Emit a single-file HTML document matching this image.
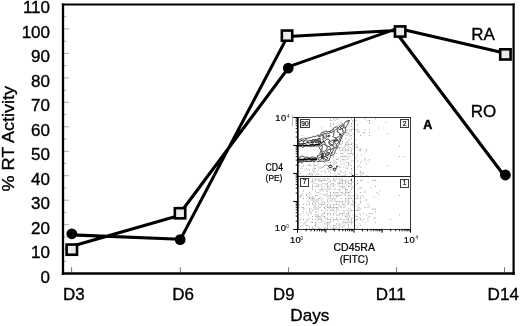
<!DOCTYPE html>
<html><head><meta charset="utf-8">
<style>
html,body{margin:0;padding:0;background:#fff;}
body{width:520px;height:326px;overflow:hidden;}
svg{display:block;}
text{font-family:"Liberation Sans",Arial,sans-serif;fill:#000;}
.m text,text.m{stroke:#000;stroke-width:0.35;}
.s text,text.s{stroke:#000;stroke-width:0.22;}
</style></head>
<body>
<svg width="520" height="326" viewBox="0 0 520 326">
<path stroke="#999" stroke-width="0.8" fill="none" d="M64 261.4H66.5M64 249.1H69M64 236.9H66.5M64 224.7H69M64 212.4H66.5M64 200.2H69M64 188.0H66.5M64 175.7H69M64 163.5H66.5M64 151.3H69M64 139.0H66.5M64 126.8H69M64 114.6H66.5M64 102.3H69M64 90.1H66.5M64 77.9H69M64 65.6H66.5M64 53.4H69M64 41.2H66.5M64 28.9H69M64 16.7H66.5"/>
<path stroke="#666" stroke-width="0.9" fill="none" d="M71.6 272.4V267.2M180.4 272.4V267.2M288.6 272.4V267.2M396.5 272.4V267.2M504.5 272.4V267.2"/>
<path fill="none" stroke="#000" d="M63 3.4V274.85" stroke-width="2.3"/><path fill="none" stroke="#000" d="M61.85 4.45H514.7" stroke-width="2.1"/><path fill="none" stroke="#000" d="M513.6 3.4V274.85" stroke-width="2.2"/><path fill="none" stroke="#000" d="M61.85 273.6H514.7" stroke-width="2.5"/>
<g class="m" font-size="17" text-anchor="end">
<text x="50" y="13.4">110</text>
<text x="50" y="37.8">100</text>
<text x="50" y="62.3">90</text>
<text x="50" y="86.8">80</text>
<text x="50" y="111.2">70</text>
<text x="50" y="135.7">60</text>
<text x="50" y="160.2">50</text>
<text x="50" y="184.6">40</text>
<text x="50" y="209.1">30</text>
<text x="50" y="233.6">20</text>
<text x="50" y="258.0">10</text>
<text x="50" y="282.5">0</text>
</g>
<text class="m" font-size="17" transform="translate(14.1,191.5) rotate(-90)" textLength="105.5" lengthAdjust="spacingAndGlyphs">% RT Activity</text>
<g class="m" font-size="17">
<text x="63" y="299.6">D3</text>
<text x="172.2" y="299.6">D6</text>
<text x="273.1" y="299.6" textLength="21.4" lengthAdjust="spacingAndGlyphs">D9</text>
<text x="375.7" y="299.6">D11</text>
<text x="487.6" y="299.6" textLength="31.3" lengthAdjust="spacingAndGlyphs">D14</text>
<text x="290.3" y="320.7" textLength="39" lengthAdjust="spacingAndGlyphs">Days</text>
<text x="471.2" y="39.8">RA</text>
<text x="470.7" y="117">RO</text>
</g>
<g id="inset">
<path fill="#aaaaaa" d="M330.0 118.5h1v1h-1zM333.0 118.5h1v1h-1zM334.5 118.5h1v1h-1zM336.0 118.5h1v1h-1zM337.5 118.5h1v1h-1zM351.0 118.5h1v1h-1zM364.5 118.5h1v1h-1zM375.0 118.5h1v1h-1zM330.0 120.0h1v1h-1zM331.5 120.0h1v1h-1zM334.5 120.0h1v1h-1zM346.5 120.0h1v1h-1zM348.0 120.0h1v1h-1zM352.5 120.0h1v1h-1zM355.5 120.0h1v1h-1zM367.5 120.0h1v1h-1zM369.0 120.0h1v1h-1zM340.5 121.5h1v1h-1zM352.5 121.5h1v1h-1zM369.0 121.5h1v1h-1zM385.5 121.5h1v1h-1zM330.0 123.0h1v1h-1zM333.0 123.0h1v1h-1zM340.5 123.0h1v1h-1zM342.0 123.0h1v1h-1zM351.0 123.0h1v1h-1zM369.0 123.0h1v1h-1zM330.0 124.5h1v1h-1zM333.0 124.5h1v1h-1zM337.5 124.5h1v1h-1zM339.0 124.5h1v1h-1zM351.0 124.5h1v1h-1zM352.5 124.5h1v1h-1zM357.0 124.5h1v1h-1zM330.0 126.0h1v1h-1zM339.0 126.0h1v1h-1zM351.0 126.0h1v1h-1zM321.0 127.5h1v1h-1zM331.5 127.5h1v1h-1zM333.0 127.5h1v1h-1zM345.0 127.5h1v1h-1zM352.5 127.5h1v1h-1zM378.0 127.5h1v1h-1zM333.0 129.0h1v1h-1zM346.5 129.0h1v1h-1zM349.5 129.0h1v1h-1zM351.0 129.0h1v1h-1zM352.5 129.0h1v1h-1zM355.5 129.0h1v1h-1zM357.0 129.0h1v1h-1zM364.5 129.0h1v1h-1zM369.0 129.0h1v1h-1zM330.0 130.5h1v1h-1zM346.5 130.5h1v1h-1zM349.5 130.5h1v1h-1zM351.0 130.5h1v1h-1zM357.0 130.5h1v1h-1zM358.5 130.5h1v1h-1zM345.0 132.0h1v1h-1zM346.5 132.0h1v1h-1zM358.5 132.0h1v1h-1zM363.0 132.0h1v1h-1zM364.5 132.0h1v1h-1zM369.0 132.0h1v1h-1zM345.0 133.5h1v1h-1zM346.5 133.5h1v1h-1zM348.0 133.5h1v1h-1zM349.5 133.5h1v1h-1zM352.5 133.5h1v1h-1zM387.0 133.5h1v1h-1zM301.5 135.0h1v1h-1zM346.5 135.0h1v1h-1zM349.5 135.0h1v1h-1zM351.0 135.0h1v1h-1zM360.0 135.0h1v1h-1zM369.0 135.0h1v1h-1zM349.5 136.5h1v1h-1zM345.0 138.0h1v1h-1zM351.0 138.0h1v1h-1zM348.0 139.5h1v1h-1zM349.5 139.5h1v1h-1zM355.5 139.5h1v1h-1zM342.0 141.0h1v1h-1zM346.5 141.0h1v1h-1zM340.5 142.5h1v1h-1zM342.0 142.5h1v1h-1zM345.0 142.5h1v1h-1zM346.5 142.5h1v1h-1zM348.0 142.5h1v1h-1zM351.0 142.5h1v1h-1zM352.5 142.5h1v1h-1zM340.5 144.0h1v1h-1zM345.0 144.0h1v1h-1zM346.5 144.0h1v1h-1zM348.0 144.0h1v1h-1zM349.5 144.0h1v1h-1zM351.0 144.0h1v1h-1zM355.5 144.0h1v1h-1zM343.5 145.5h1v1h-1zM345.0 145.5h1v1h-1zM346.5 145.5h1v1h-1zM348.0 145.5h1v1h-1zM352.5 145.5h1v1h-1zM357.0 145.5h1v1h-1zM399.0 145.5h1v1h-1zM337.5 147.0h1v1h-1zM339.0 147.0h1v1h-1zM340.5 147.0h1v1h-1zM343.5 147.0h1v1h-1zM349.5 147.0h1v1h-1zM355.5 147.0h1v1h-1zM357.0 147.0h1v1h-1zM339.0 148.5h1v1h-1zM342.0 148.5h1v1h-1zM343.5 148.5h1v1h-1zM345.0 148.5h1v1h-1zM348.0 148.5h1v1h-1zM351.0 148.5h1v1h-1zM352.5 148.5h1v1h-1zM358.5 148.5h1v1h-1zM360.0 148.5h1v1h-1zM361.5 148.5h1v1h-1zM366.0 148.5h1v1h-1zM340.5 150.0h1v1h-1zM342.0 150.0h1v1h-1zM345.0 150.0h1v1h-1zM346.5 150.0h1v1h-1zM348.0 150.0h1v1h-1zM351.0 150.0h1v1h-1zM358.5 150.0h1v1h-1zM360.0 150.0h1v1h-1zM366.0 150.0h1v1h-1zM343.5 151.5h1v1h-1zM346.5 151.5h1v1h-1zM351.0 151.5h1v1h-1zM364.5 151.5h1v1h-1zM336.0 153.0h1v1h-1zM340.5 153.0h1v1h-1zM342.0 153.0h1v1h-1zM348.0 153.0h1v1h-1zM349.5 153.0h1v1h-1zM351.0 153.0h1v1h-1zM352.5 153.0h1v1h-1zM343.5 154.5h1v1h-1zM346.5 154.5h1v1h-1zM349.5 154.5h1v1h-1zM352.5 154.5h1v1h-1zM357.0 154.5h1v1h-1zM361.5 154.5h1v1h-1zM333.0 156.0h1v1h-1zM340.5 156.0h1v1h-1zM342.0 156.0h1v1h-1zM343.5 156.0h1v1h-1zM345.0 156.0h1v1h-1zM346.5 156.0h1v1h-1zM349.5 156.0h1v1h-1zM399.0 156.0h1v1h-1zM403.5 156.0h1v1h-1zM337.5 157.5h1v1h-1zM340.5 157.5h1v1h-1zM348.0 157.5h1v1h-1zM355.5 157.5h1v1h-1zM364.5 157.5h1v1h-1zM336.0 159.0h1v1h-1zM337.5 159.0h1v1h-1zM342.0 159.0h1v1h-1zM343.5 159.0h1v1h-1zM346.5 159.0h1v1h-1zM364.5 159.0h1v1h-1zM369.0 159.0h1v1h-1zM333.0 160.5h1v1h-1zM334.5 160.5h1v1h-1zM340.5 160.5h1v1h-1zM343.5 160.5h1v1h-1zM351.0 160.5h1v1h-1zM352.5 160.5h1v1h-1zM357.0 160.5h1v1h-1zM361.5 160.5h1v1h-1zM364.5 160.5h1v1h-1zM367.5 160.5h1v1h-1zM298.5 162.0h1v1h-1zM313.5 162.0h1v1h-1zM324.0 162.0h1v1h-1zM328.5 162.0h1v1h-1zM330.0 162.0h1v1h-1zM334.5 162.0h1v1h-1zM336.0 162.0h1v1h-1zM346.5 162.0h1v1h-1zM348.0 162.0h1v1h-1zM360.0 162.0h1v1h-1zM309.0 163.5h1v1h-1zM313.5 163.5h1v1h-1zM318.0 163.5h1v1h-1zM325.5 163.5h1v1h-1zM330.0 163.5h1v1h-1zM333.0 163.5h1v1h-1zM334.5 163.5h1v1h-1zM340.5 163.5h1v1h-1zM343.5 163.5h1v1h-1zM348.0 163.5h1v1h-1zM349.5 163.5h1v1h-1zM366.0 163.5h1v1h-1zM298.5 165.0h1v1h-1zM303.0 165.0h1v1h-1zM307.5 165.0h1v1h-1zM309.0 165.0h1v1h-1zM310.5 165.0h1v1h-1zM313.5 165.0h1v1h-1zM315.0 165.0h1v1h-1zM316.5 165.0h1v1h-1zM324.0 165.0h1v1h-1zM325.5 165.0h1v1h-1zM327.0 165.0h1v1h-1zM328.5 165.0h1v1h-1zM330.0 165.0h1v1h-1zM337.5 165.0h1v1h-1zM348.0 165.0h1v1h-1zM351.0 165.0h1v1h-1zM358.5 165.0h1v1h-1zM387.0 165.0h1v1h-1zM301.5 166.5h1v1h-1zM313.5 166.5h1v1h-1zM318.0 166.5h1v1h-1zM319.5 166.5h1v1h-1zM321.0 166.5h1v1h-1zM336.0 166.5h1v1h-1zM339.0 166.5h1v1h-1zM340.5 166.5h1v1h-1zM343.5 166.5h1v1h-1zM346.5 166.5h1v1h-1zM357.0 166.5h1v1h-1zM360.0 166.5h1v1h-1zM301.5 168.0h1v1h-1zM306.0 168.0h1v1h-1zM313.5 168.0h1v1h-1zM315.0 168.0h1v1h-1zM319.5 168.0h1v1h-1zM327.0 168.0h1v1h-1zM328.5 168.0h1v1h-1zM331.5 168.0h1v1h-1zM333.0 168.0h1v1h-1zM334.5 168.0h1v1h-1zM336.0 168.0h1v1h-1zM346.5 168.0h1v1h-1zM351.0 168.0h1v1h-1zM304.5 169.5h1v1h-1zM307.5 169.5h1v1h-1zM309.0 169.5h1v1h-1zM312.0 169.5h1v1h-1zM313.5 169.5h1v1h-1zM318.0 169.5h1v1h-1zM325.5 169.5h1v1h-1zM328.5 169.5h1v1h-1zM330.0 169.5h1v1h-1zM331.5 169.5h1v1h-1zM340.5 169.5h1v1h-1zM351.0 169.5h1v1h-1zM298.5 171.0h1v1h-1zM313.5 171.0h1v1h-1zM321.0 171.0h1v1h-1zM324.0 171.0h1v1h-1zM328.5 171.0h1v1h-1zM334.5 171.0h1v1h-1zM340.5 171.0h1v1h-1zM345.0 171.0h1v1h-1zM360.0 171.0h1v1h-1zM300.0 172.5h1v1h-1zM309.0 172.5h1v1h-1zM310.5 172.5h1v1h-1zM313.5 172.5h1v1h-1zM316.5 172.5h1v1h-1zM325.5 172.5h1v1h-1zM330.0 172.5h1v1h-1zM334.5 172.5h1v1h-1zM337.5 172.5h1v1h-1zM340.5 172.5h1v1h-1zM343.5 172.5h1v1h-1zM349.5 172.5h1v1h-1zM351.0 172.5h1v1h-1zM360.0 172.5h1v1h-1zM361.5 172.5h1v1h-1zM363.0 172.5h1v1h-1zM307.5 174.0h1v1h-1zM309.0 174.0h1v1h-1zM310.5 174.0h1v1h-1zM312.0 174.0h1v1h-1zM316.5 174.0h1v1h-1zM318.0 174.0h1v1h-1zM337.5 174.0h1v1h-1zM339.0 174.0h1v1h-1zM345.0 174.0h1v1h-1zM351.0 174.0h1v1h-1zM355.5 174.0h1v1h-1zM357.0 174.0h1v1h-1zM361.5 174.0h1v1h-1zM298.5 175.5h1v1h-1zM301.5 175.5h1v1h-1zM303.0 175.5h1v1h-1zM304.5 175.5h1v1h-1zM306.0 175.5h1v1h-1zM310.5 175.5h1v1h-1zM312.0 175.5h1v1h-1zM315.0 175.5h1v1h-1zM321.0 175.5h1v1h-1zM327.0 175.5h1v1h-1zM330.0 175.5h1v1h-1zM334.5 175.5h1v1h-1zM336.0 175.5h1v1h-1zM340.5 175.5h1v1h-1zM342.0 175.5h1v1h-1zM343.5 175.5h1v1h-1zM345.0 175.5h1v1h-1zM360.0 175.5h1v1h-1zM366.0 175.5h1v1h-1zM367.5 175.5h1v1h-1zM298.5 178.5h1v1h-1zM312.0 178.5h1v1h-1zM313.5 178.5h1v1h-1zM315.0 178.5h1v1h-1zM316.5 178.5h1v1h-1zM318.0 178.5h1v1h-1zM319.5 178.5h1v1h-1zM322.5 178.5h1v1h-1zM324.0 178.5h1v1h-1zM327.0 178.5h1v1h-1zM328.5 178.5h1v1h-1zM333.0 178.5h1v1h-1zM334.5 178.5h1v1h-1zM336.0 178.5h1v1h-1zM339.0 178.5h1v1h-1zM340.5 178.5h1v1h-1zM342.0 178.5h1v1h-1zM346.5 178.5h1v1h-1zM351.0 178.5h1v1h-1zM361.5 178.5h1v1h-1zM312.0 180.0h1v1h-1zM315.0 180.0h1v1h-1zM318.0 180.0h1v1h-1zM319.5 180.0h1v1h-1zM321.0 180.0h1v1h-1zM322.5 180.0h1v1h-1zM324.0 180.0h1v1h-1zM325.5 180.0h1v1h-1zM330.0 180.0h1v1h-1zM333.0 180.0h1v1h-1zM334.5 180.0h1v1h-1zM340.5 180.0h1v1h-1zM342.0 180.0h1v1h-1zM343.5 180.0h1v1h-1zM345.0 180.0h1v1h-1zM348.0 180.0h1v1h-1zM351.0 180.0h1v1h-1zM357.0 180.0h1v1h-1zM360.0 180.0h1v1h-1zM361.5 180.0h1v1h-1zM372.0 180.0h1v1h-1zM373.5 180.0h1v1h-1zM375.0 180.0h1v1h-1zM310.5 181.5h1v1h-1zM312.0 181.5h1v1h-1zM313.5 181.5h1v1h-1zM319.5 181.5h1v1h-1zM321.0 181.5h1v1h-1zM328.5 181.5h1v1h-1zM330.0 181.5h1v1h-1zM334.5 181.5h1v1h-1zM337.5 181.5h1v1h-1zM339.0 181.5h1v1h-1zM340.5 181.5h1v1h-1zM342.0 181.5h1v1h-1zM345.0 181.5h1v1h-1zM346.5 181.5h1v1h-1zM348.0 181.5h1v1h-1zM351.0 181.5h1v1h-1zM352.5 181.5h1v1h-1zM367.5 181.5h1v1h-1zM313.5 183.0h1v1h-1zM316.5 183.0h1v1h-1zM322.5 183.0h1v1h-1zM325.5 183.0h1v1h-1zM327.0 183.0h1v1h-1zM331.5 183.0h1v1h-1zM333.0 183.0h1v1h-1zM337.5 183.0h1v1h-1zM339.0 183.0h1v1h-1zM340.5 183.0h1v1h-1zM342.0 183.0h1v1h-1zM345.0 183.0h1v1h-1zM348.0 183.0h1v1h-1zM349.5 183.0h1v1h-1zM351.0 183.0h1v1h-1zM357.0 183.0h1v1h-1zM312.0 184.5h1v1h-1zM316.5 184.5h1v1h-1zM318.0 184.5h1v1h-1zM319.5 184.5h1v1h-1zM321.0 184.5h1v1h-1zM325.5 184.5h1v1h-1zM327.0 184.5h1v1h-1zM330.0 184.5h1v1h-1zM331.5 184.5h1v1h-1zM333.0 184.5h1v1h-1zM334.5 184.5h1v1h-1zM337.5 184.5h1v1h-1zM343.5 184.5h1v1h-1zM346.5 184.5h1v1h-1zM349.5 184.5h1v1h-1zM351.0 184.5h1v1h-1zM355.5 184.5h1v1h-1zM298.5 186.0h1v1h-1zM312.0 186.0h1v1h-1zM315.0 186.0h1v1h-1zM316.5 186.0h1v1h-1zM318.0 186.0h1v1h-1zM322.5 186.0h1v1h-1zM327.0 186.0h1v1h-1zM328.5 186.0h1v1h-1zM333.0 186.0h1v1h-1zM339.0 186.0h1v1h-1zM340.5 186.0h1v1h-1zM342.0 186.0h1v1h-1zM343.5 186.0h1v1h-1zM348.0 186.0h1v1h-1zM349.5 186.0h1v1h-1zM352.5 186.0h1v1h-1zM375.0 186.0h1v1h-1zM312.0 187.5h1v1h-1zM321.0 187.5h1v1h-1zM324.0 187.5h1v1h-1zM327.0 187.5h1v1h-1zM328.5 187.5h1v1h-1zM330.0 187.5h1v1h-1zM334.5 187.5h1v1h-1zM340.5 187.5h1v1h-1zM342.0 187.5h1v1h-1zM343.5 187.5h1v1h-1zM345.0 187.5h1v1h-1zM351.0 187.5h1v1h-1zM352.5 187.5h1v1h-1zM358.5 187.5h1v1h-1zM360.0 187.5h1v1h-1zM361.5 187.5h1v1h-1zM370.5 187.5h1v1h-1zM312.0 189.0h1v1h-1zM319.5 189.0h1v1h-1zM321.0 189.0h1v1h-1zM322.5 189.0h1v1h-1zM325.5 189.0h1v1h-1zM328.5 189.0h1v1h-1zM331.5 189.0h1v1h-1zM334.5 189.0h1v1h-1zM337.5 189.0h1v1h-1zM339.0 189.0h1v1h-1zM345.0 189.0h1v1h-1zM346.5 189.0h1v1h-1zM351.0 189.0h1v1h-1zM357.0 189.0h1v1h-1zM303.0 190.5h1v1h-1zM315.0 190.5h1v1h-1zM319.5 190.5h1v1h-1zM322.5 190.5h1v1h-1zM325.5 190.5h1v1h-1zM327.0 190.5h1v1h-1zM339.0 190.5h1v1h-1zM345.0 190.5h1v1h-1zM346.5 190.5h1v1h-1zM349.5 190.5h1v1h-1zM364.5 190.5h1v1h-1zM379.5 190.5h1v1h-1zM309.0 192.0h1v1h-1zM316.5 192.0h1v1h-1zM318.0 192.0h1v1h-1zM330.0 192.0h1v1h-1zM333.0 192.0h1v1h-1zM334.5 192.0h1v1h-1zM336.0 192.0h1v1h-1zM337.5 192.0h1v1h-1zM340.5 192.0h1v1h-1zM342.0 192.0h1v1h-1zM345.0 192.0h1v1h-1zM346.5 192.0h1v1h-1zM348.0 192.0h1v1h-1zM349.5 192.0h1v1h-1zM360.0 192.0h1v1h-1zM364.5 192.0h1v1h-1zM376.5 192.0h1v1h-1zM301.5 193.5h1v1h-1zM306.0 193.5h1v1h-1zM307.5 193.5h1v1h-1zM310.5 193.5h1v1h-1zM319.5 193.5h1v1h-1zM322.5 193.5h1v1h-1zM325.5 193.5h1v1h-1zM327.0 193.5h1v1h-1zM330.0 193.5h1v1h-1zM334.5 193.5h1v1h-1zM337.5 193.5h1v1h-1zM342.0 193.5h1v1h-1zM343.5 193.5h1v1h-1zM345.0 193.5h1v1h-1zM348.0 193.5h1v1h-1zM355.5 193.5h1v1h-1zM378.0 193.5h1v1h-1zM300.0 195.0h1v1h-1zM301.5 195.0h1v1h-1zM306.0 195.0h1v1h-1zM309.0 195.0h1v1h-1zM315.0 195.0h1v1h-1zM316.5 195.0h1v1h-1zM324.0 195.0h1v1h-1zM325.5 195.0h1v1h-1zM328.5 195.0h1v1h-1zM330.0 195.0h1v1h-1zM331.5 195.0h1v1h-1zM334.5 195.0h1v1h-1zM336.0 195.0h1v1h-1zM337.5 195.0h1v1h-1zM339.0 195.0h1v1h-1zM340.5 195.0h1v1h-1zM345.0 195.0h1v1h-1zM348.0 195.0h1v1h-1zM349.5 195.0h1v1h-1zM352.5 195.0h1v1h-1zM357.0 195.0h1v1h-1zM361.5 195.0h1v1h-1zM399.0 195.0h1v1h-1zM298.5 196.5h1v1h-1zM300.0 196.5h1v1h-1zM307.5 196.5h1v1h-1zM309.0 196.5h1v1h-1zM310.5 196.5h1v1h-1zM312.0 196.5h1v1h-1zM313.5 196.5h1v1h-1zM319.5 196.5h1v1h-1zM327.0 196.5h1v1h-1zM328.5 196.5h1v1h-1zM330.0 196.5h1v1h-1zM333.0 196.5h1v1h-1zM336.0 196.5h1v1h-1zM337.5 196.5h1v1h-1zM346.5 196.5h1v1h-1zM349.5 196.5h1v1h-1zM357.0 196.5h1v1h-1zM360.0 196.5h1v1h-1zM363.0 196.5h1v1h-1zM373.5 196.5h1v1h-1zM303.0 198.0h1v1h-1zM309.0 198.0h1v1h-1zM310.5 198.0h1v1h-1zM312.0 198.0h1v1h-1zM313.5 198.0h1v1h-1zM318.0 198.0h1v1h-1zM319.5 198.0h1v1h-1zM322.5 198.0h1v1h-1zM328.5 198.0h1v1h-1zM331.5 198.0h1v1h-1zM334.5 198.0h1v1h-1zM340.5 198.0h1v1h-1zM345.0 198.0h1v1h-1zM348.0 198.0h1v1h-1zM349.5 198.0h1v1h-1zM351.0 198.0h1v1h-1zM355.5 198.0h1v1h-1zM357.0 198.0h1v1h-1zM360.0 198.0h1v1h-1zM307.5 199.5h1v1h-1zM310.5 199.5h1v1h-1zM312.0 199.5h1v1h-1zM313.5 199.5h1v1h-1zM315.0 199.5h1v1h-1zM316.5 199.5h1v1h-1zM318.0 199.5h1v1h-1zM321.0 199.5h1v1h-1zM327.0 199.5h1v1h-1zM330.0 199.5h1v1h-1zM331.5 199.5h1v1h-1zM334.5 199.5h1v1h-1zM345.0 199.5h1v1h-1zM346.5 199.5h1v1h-1zM348.0 199.5h1v1h-1zM352.5 199.5h1v1h-1zM364.5 199.5h1v1h-1zM366.0 199.5h1v1h-1zM298.5 201.0h1v1h-1zM307.5 201.0h1v1h-1zM313.5 201.0h1v1h-1zM316.5 201.0h1v1h-1zM322.5 201.0h1v1h-1zM327.0 201.0h1v1h-1zM331.5 201.0h1v1h-1zM334.5 201.0h1v1h-1zM336.0 201.0h1v1h-1zM337.5 201.0h1v1h-1zM339.0 201.0h1v1h-1zM340.5 201.0h1v1h-1zM342.0 201.0h1v1h-1zM345.0 201.0h1v1h-1zM348.0 201.0h1v1h-1zM352.5 201.0h1v1h-1zM360.0 201.0h1v1h-1zM309.0 202.5h1v1h-1zM312.0 202.5h1v1h-1zM313.5 202.5h1v1h-1zM315.0 202.5h1v1h-1zM318.0 202.5h1v1h-1zM321.0 202.5h1v1h-1zM322.5 202.5h1v1h-1zM324.0 202.5h1v1h-1zM328.5 202.5h1v1h-1zM336.0 202.5h1v1h-1zM339.0 202.5h1v1h-1zM342.0 202.5h1v1h-1zM343.5 202.5h1v1h-1zM346.5 202.5h1v1h-1zM348.0 202.5h1v1h-1zM349.5 202.5h1v1h-1zM352.5 202.5h1v1h-1zM355.5 202.5h1v1h-1zM360.0 202.5h1v1h-1zM298.5 204.0h1v1h-1zM303.0 204.0h1v1h-1zM306.0 204.0h1v1h-1zM309.0 204.0h1v1h-1zM312.0 204.0h1v1h-1zM315.0 204.0h1v1h-1zM319.5 204.0h1v1h-1zM321.0 204.0h1v1h-1zM322.5 204.0h1v1h-1zM324.0 204.0h1v1h-1zM327.0 204.0h1v1h-1zM330.0 204.0h1v1h-1zM333.0 204.0h1v1h-1zM334.5 204.0h1v1h-1zM336.0 204.0h1v1h-1zM337.5 204.0h1v1h-1zM342.0 204.0h1v1h-1zM343.5 204.0h1v1h-1zM348.0 204.0h1v1h-1zM351.0 204.0h1v1h-1zM352.5 204.0h1v1h-1zM358.5 204.0h1v1h-1zM367.5 204.0h1v1h-1zM313.5 205.5h1v1h-1zM315.0 205.5h1v1h-1zM318.0 205.5h1v1h-1zM321.0 205.5h1v1h-1zM325.5 205.5h1v1h-1zM327.0 205.5h1v1h-1zM328.5 205.5h1v1h-1zM330.0 205.5h1v1h-1zM333.0 205.5h1v1h-1zM339.0 205.5h1v1h-1zM340.5 205.5h1v1h-1zM343.5 205.5h1v1h-1zM345.0 205.5h1v1h-1zM352.5 205.5h1v1h-1zM357.0 205.5h1v1h-1zM369.0 205.5h1v1h-1zM298.5 207.0h1v1h-1zM301.5 207.0h1v1h-1zM303.0 207.0h1v1h-1zM313.5 207.0h1v1h-1zM316.5 207.0h1v1h-1zM319.5 207.0h1v1h-1zM324.0 207.0h1v1h-1zM327.0 207.0h1v1h-1zM328.5 207.0h1v1h-1zM330.0 207.0h1v1h-1zM331.5 207.0h1v1h-1zM333.0 207.0h1v1h-1zM334.5 207.0h1v1h-1zM336.0 207.0h1v1h-1zM337.5 207.0h1v1h-1zM340.5 207.0h1v1h-1zM343.5 207.0h1v1h-1zM358.5 207.0h1v1h-1zM364.5 207.0h1v1h-1zM367.5 207.0h1v1h-1zM303.0 208.5h1v1h-1zM304.5 208.5h1v1h-1zM309.0 208.5h1v1h-1zM310.5 208.5h1v1h-1zM313.5 208.5h1v1h-1zM315.0 208.5h1v1h-1zM316.5 208.5h1v1h-1zM318.0 208.5h1v1h-1zM324.0 208.5h1v1h-1zM325.5 208.5h1v1h-1zM328.5 208.5h1v1h-1zM331.5 208.5h1v1h-1zM333.0 208.5h1v1h-1zM336.0 208.5h1v1h-1zM337.5 208.5h1v1h-1zM348.0 208.5h1v1h-1zM349.5 208.5h1v1h-1zM357.0 208.5h1v1h-1zM358.5 208.5h1v1h-1zM360.0 208.5h1v1h-1zM372.0 208.5h1v1h-1zM373.5 208.5h1v1h-1zM375.0 208.5h1v1h-1zM309.0 210.0h1v1h-1zM312.0 210.0h1v1h-1zM321.0 210.0h1v1h-1zM327.0 210.0h1v1h-1zM330.0 210.0h1v1h-1zM331.5 210.0h1v1h-1zM333.0 210.0h1v1h-1zM337.5 210.0h1v1h-1zM343.5 210.0h1v1h-1zM346.5 210.0h1v1h-1zM349.5 210.0h1v1h-1zM351.0 210.0h1v1h-1zM352.5 210.0h1v1h-1zM355.5 210.0h1v1h-1zM357.0 210.0h1v1h-1zM358.5 210.0h1v1h-1zM303.0 211.5h1v1h-1zM306.0 211.5h1v1h-1zM309.0 211.5h1v1h-1zM310.5 211.5h1v1h-1zM315.0 211.5h1v1h-1zM316.5 211.5h1v1h-1zM324.0 211.5h1v1h-1zM334.5 211.5h1v1h-1zM336.0 211.5h1v1h-1zM343.5 211.5h1v1h-1zM348.0 211.5h1v1h-1zM349.5 211.5h1v1h-1zM375.0 211.5h1v1h-1zM307.5 213.0h1v1h-1zM310.5 213.0h1v1h-1zM322.5 213.0h1v1h-1zM324.0 213.0h1v1h-1zM327.0 213.0h1v1h-1zM328.5 213.0h1v1h-1zM330.0 213.0h1v1h-1zM333.0 213.0h1v1h-1zM339.0 213.0h1v1h-1zM340.5 213.0h1v1h-1zM342.0 213.0h1v1h-1zM343.5 213.0h1v1h-1zM346.5 213.0h1v1h-1zM348.0 213.0h1v1h-1zM358.5 213.0h1v1h-1zM363.0 213.0h1v1h-1zM369.0 213.0h1v1h-1zM370.5 213.0h1v1h-1zM372.0 213.0h1v1h-1zM300.0 214.5h1v1h-1zM307.5 214.5h1v1h-1zM315.0 214.5h1v1h-1zM316.5 214.5h1v1h-1zM318.0 214.5h1v1h-1zM321.0 214.5h1v1h-1zM322.5 214.5h1v1h-1zM327.0 214.5h1v1h-1zM330.0 214.5h1v1h-1zM333.0 214.5h1v1h-1zM336.0 214.5h1v1h-1zM337.5 214.5h1v1h-1zM339.0 214.5h1v1h-1zM342.0 214.5h1v1h-1zM345.0 214.5h1v1h-1zM346.5 214.5h1v1h-1zM348.0 214.5h1v1h-1zM349.5 214.5h1v1h-1zM352.5 214.5h1v1h-1zM355.5 214.5h1v1h-1zM360.0 214.5h1v1h-1zM366.0 214.5h1v1h-1zM399.0 214.5h1v1h-1zM312.0 216.0h1v1h-1zM315.0 216.0h1v1h-1zM316.5 216.0h1v1h-1zM318.0 216.0h1v1h-1zM319.5 216.0h1v1h-1zM322.5 216.0h1v1h-1zM324.0 216.0h1v1h-1zM345.0 216.0h1v1h-1zM346.5 216.0h1v1h-1zM349.5 216.0h1v1h-1zM355.5 216.0h1v1h-1zM357.0 216.0h1v1h-1zM369.0 216.0h1v1h-1zM309.0 217.5h1v1h-1zM316.5 217.5h1v1h-1zM318.0 217.5h1v1h-1zM319.5 217.5h1v1h-1zM321.0 217.5h1v1h-1zM324.0 217.5h1v1h-1zM325.5 217.5h1v1h-1zM327.0 217.5h1v1h-1zM331.5 217.5h1v1h-1zM336.0 217.5h1v1h-1zM340.5 217.5h1v1h-1zM346.5 217.5h1v1h-1zM348.0 217.5h1v1h-1zM351.0 217.5h1v1h-1zM352.5 217.5h1v1h-1zM358.5 217.5h1v1h-1zM360.0 217.5h1v1h-1zM367.5 217.5h1v1h-1zM373.5 217.5h1v1h-1zM375.0 217.5h1v1h-1zM300.0 219.0h1v1h-1zM303.0 219.0h1v1h-1zM307.5 219.0h1v1h-1zM312.0 219.0h1v1h-1zM315.0 219.0h1v1h-1zM318.0 219.0h1v1h-1zM319.5 219.0h1v1h-1zM321.0 219.0h1v1h-1zM327.0 219.0h1v1h-1zM328.5 219.0h1v1h-1zM330.0 219.0h1v1h-1zM333.0 219.0h1v1h-1zM334.5 219.0h1v1h-1zM336.0 219.0h1v1h-1zM337.5 219.0h1v1h-1zM340.5 219.0h1v1h-1zM343.5 219.0h1v1h-1zM346.5 219.0h1v1h-1zM348.0 219.0h1v1h-1zM351.0 219.0h1v1h-1zM355.5 219.0h1v1h-1zM357.0 219.0h1v1h-1zM360.0 219.0h1v1h-1zM363.0 219.0h1v1h-1zM390.0 219.0h1v1h-1zM306.0 220.5h1v1h-1zM307.5 220.5h1v1h-1zM316.5 220.5h1v1h-1zM321.0 220.5h1v1h-1zM322.5 220.5h1v1h-1zM330.0 220.5h1v1h-1zM333.0 220.5h1v1h-1zM337.5 220.5h1v1h-1zM343.5 220.5h1v1h-1zM346.5 220.5h1v1h-1zM348.0 220.5h1v1h-1zM349.5 220.5h1v1h-1zM351.0 220.5h1v1h-1zM355.5 220.5h1v1h-1zM361.5 220.5h1v1h-1zM367.5 220.5h1v1h-1zM298.5 222.0h1v1h-1zM304.5 222.0h1v1h-1zM310.5 222.0h1v1h-1zM312.0 222.0h1v1h-1zM315.0 222.0h1v1h-1zM319.5 222.0h1v1h-1zM325.5 222.0h1v1h-1zM327.0 222.0h1v1h-1zM328.5 222.0h1v1h-1zM330.0 222.0h1v1h-1zM342.0 222.0h1v1h-1zM343.5 222.0h1v1h-1zM345.0 222.0h1v1h-1zM346.5 222.0h1v1h-1zM349.5 222.0h1v1h-1zM351.0 222.0h1v1h-1zM352.5 222.0h1v1h-1zM364.5 222.0h1v1h-1zM375.0 222.0h1v1h-1zM303.0 223.5h1v1h-1zM304.5 223.5h1v1h-1zM315.0 223.5h1v1h-1zM316.5 223.5h1v1h-1zM324.0 223.5h1v1h-1zM325.5 223.5h1v1h-1zM327.0 223.5h1v1h-1zM328.5 223.5h1v1h-1zM336.0 223.5h1v1h-1zM337.5 223.5h1v1h-1zM339.0 223.5h1v1h-1zM340.5 223.5h1v1h-1zM343.5 223.5h1v1h-1zM346.5 223.5h1v1h-1zM348.0 223.5h1v1h-1zM351.0 223.5h1v1h-1zM358.5 223.5h1v1h-1zM301.5 225.0h1v1h-1zM306.0 225.0h1v1h-1zM307.5 225.0h1v1h-1zM315.0 225.0h1v1h-1zM327.0 225.0h1v1h-1zM333.0 225.0h1v1h-1zM334.5 225.0h1v1h-1zM339.0 225.0h1v1h-1zM343.5 225.0h1v1h-1zM348.0 225.0h1v1h-1zM355.5 225.0h1v1h-1zM360.0 225.0h1v1h-1zM300.0 226.5h1v1h-1zM309.0 226.5h1v1h-1zM312.0 226.5h1v1h-1zM315.0 226.5h1v1h-1zM318.0 226.5h1v1h-1zM322.5 226.5h1v1h-1zM325.5 226.5h1v1h-1zM327.0 226.5h1v1h-1zM330.0 226.5h1v1h-1zM333.0 226.5h1v1h-1zM334.5 226.5h1v1h-1zM336.0 226.5h1v1h-1zM339.0 226.5h1v1h-1zM340.5 226.5h1v1h-1zM342.0 226.5h1v1h-1zM343.5 226.5h1v1h-1zM348.0 226.5h1v1h-1zM357.0 226.5h1v1h-1zM306.0 228.0h1v1h-1zM309.0 228.0h1v1h-1zM312.0 228.0h1v1h-1zM313.5 228.0h1v1h-1zM318.0 228.0h1v1h-1zM319.5 228.0h1v1h-1zM324.0 228.0h1v1h-1zM325.5 228.0h1v1h-1zM327.0 228.0h1v1h-1zM331.5 228.0h1v1h-1zM333.0 228.0h1v1h-1zM334.5 228.0h1v1h-1zM337.5 228.0h1v1h-1zM346.5 228.0h1v1h-1zM349.5 228.0h1v1h-1zM355.5 228.0h1v1h-1zM361.5 228.0h1v1h-1z"/>
<path fill="none" stroke="#151515" stroke-width="0.85" stroke-linejoin="round" d="M297.5 141.5L297.9 141.2L298.2 140.9L298.5 140.5L299.0 140.1L299.4 139.8L299.8 139.5L300.1 139.0L300.6 139.0L301.1 139.0L301.6 138.8L302.1 138.8L302.5 139.1L303.0 139.4L303.5 139.2L304.0 138.8L304.2 138.5L304.8 138.2L305.3 138.2L305.8 138.6L306.5 138.6L307.0 138.5L307.6 138.2L308.2 138.1L308.9 138.0L309.5 137.9L310.0 137.6L310.7 137.5L311.2 137.5L311.8 137.2L312.5 137.1L312.8 136.7L313.2 136.2L313.8 136.2L314.2 136.5L314.8 136.7L315.4 136.5L315.9 136.2L316.2 136.0L316.8 135.7L317.2 135.4L318.0 135.3L318.5 135.2L319.0 135.3L319.7 135.2L320.2 135.1L320.7 134.8L320.9 134.2L321.0 133.8L321.2 133.1L321.7 132.8L322.1 132.5L322.8 132.4L323.2 132.2L324.0 132.1L324.8 132.0L325.1 131.8L325.3 131.2L325.7 130.8L326.0 130.8L326.5 131.2L326.9 131.5L327.5 131.5L328.2 131.6L329.0 131.7L329.6 131.5L330.2 131.3L330.8 131.1L331.0 130.8L331.5 130.4L332.0 130.2L332.6 130.0L332.8 129.5L333.2 129.0L333.5 128.7L333.9 128.2L334.2 128.0L334.7 127.5L335.0 127.2L335.8 127.0L336.2 126.8L337.0 127.0L337.5 127.1L338.0 127.4L338.5 127.6L339.0 127.5L339.4 127.0L339.5 126.4L340.0 126.0L340.3 125.8L340.8 125.5L341.3 125.2L341.8 125.0L342.2 125.1L343.0 125.0L343.5 124.8L343.8 124.5L344.0 123.8L344.2 123.2L344.5 122.9L345.0 122.5L345.2 122.0L345.5 121.8L346.2 121.6L346.8 121.4L347.5 121.3L348.0 121.0L348.2 120.7L348.8 120.3L349.4 120.5L349.4 121.2L348.8 121.5L348.4 121.8L348.3 122.5L348.1 123.0L347.9 123.5L347.8 124.2L347.8 124.5L347.5 124.9L347.2 125.4L346.9 125.8L346.5 126.2L346.4 126.8L346.2 127.4L345.8 127.5L345.2 127.4L344.7 127.5L344.8 128.1L345.0 128.5L345.4 129.0L345.6 129.5L345.5 130.2L345.4 130.8L345.4 131.5L345.2 132.0L344.8 132.5L344.5 132.8L344.1 133.2L343.8 133.7L343.5 134.2L343.3 134.8L343.1 135.2L342.5 135.4L342.0 135.2L341.6 135.5L342.0 135.8L342.4 136.2L342.2 136.8L341.9 137.2L341.8 138.0L342.0 138.3L341.5 138.5L341.0 138.5L340.7 138.8L340.6 139.5L340.8 140.0L340.9 140.8L340.5 141.1L340.0 141.2L339.7 141.2L339.4 141.8L339.3 142.5L339.5 143.0L339.5 143.4L339.6 144.0L339.2 144.3L338.8 144.7L338.4 145.0L338.0 145.4L337.6 145.8L337.6 146.5L337.4 147.0L337.4 147.8L337.2 148.2L336.8 148.8L336.5 149.0L336.0 149.3L335.7 149.8L335.5 150.5L335.2 150.8L334.9 151.2L334.8 152.0L334.9 152.8L334.6 153.2L334.3 153.8L334.0 154.2L333.8 154.6L333.2 154.9L332.8 155.1L332.0 155.1L331.5 155.3L330.8 155.4L330.1 155.5L329.8 156.0L330.1 156.5L330.3 157.0L330.2 157.5L330.0 158.0L329.5 158.5L329.2 158.8L328.8 159.2L329.0 159.4L329.5 159.7L329.5 160.0L329.0 160.3L328.5 160.5L327.8 160.6L327.2 160.9L326.8 161.1L326.0 161.1L325.5 160.9L324.8 160.8L324.2 161.0L323.8 161.5L323.2 161.6L322.8 161.2L322.2 161.0L321.8 161.3L321.0 161.3L320.2 161.3L319.8 161.2L319.0 161.2L318.8 161.6L318.2 161.8L317.8 161.7L317.2 161.5L316.8 161.1L316.2 160.9L315.5 160.8L315.0 161.1L314.2 161.1L313.5 161.1L313.0 160.8L312.5 160.7L312.0 160.9L311.6 161.2L311.0 161.4L310.2 161.3L309.5 161.3L308.8 161.5L308.2 161.6L307.5 161.6L307.0 161.4L306.5 161.2L305.8 161.2L305.2 161.3L304.5 161.4L303.8 161.5L303.2 161.6L302.8 161.9L302.4 162.2L302.0 162.8L301.5 162.9L301.0 162.7L300.7 162.2L300.9 161.8L300.2 161.6L299.8 161.8L299.2 162.1L298.8 162.3L298.0 162.4L297.5 162.3M297.5 156.3L298.2 156.3L298.8 156.6L299.2 156.9L299.8 157.0L300.5 157.1L301.0 156.8L301.3 156.5L301.8 156.2L302.5 156.2L303.0 156.5L303.5 156.7L304.0 156.8L304.5 157.0L305.0 157.3L305.8 157.4L306.5 157.3L307.0 157.2L307.7 157.2L308.2 157.5L308.8 157.7L309.2 158.0L309.8 158.1L310.4 158.0L310.7 157.5L311.0 157.2L311.6 157.0L312.2 157.0L312.8 157.1L313.2 157.4L314.0 157.3L314.5 157.2L315.0 157.3L315.5 157.7L316.2 157.6L316.7 157.2L317.2 157.1L317.6 157.0L318.2 157.1L318.0 156.8L317.5 156.6L317.5 156.0L317.7 155.5L318.2 155.3L318.8 155.2L319.2 155.3L319.8 155.1L320.1 154.8L320.3 154.2L320.2 153.8L319.8 153.3L319.9 153.0L320.2 152.5L320.4 152.0L320.5 151.5L321.0 151.1L321.1 150.5L321.0 149.9L320.6 149.5L320.2 149.5L319.9 149.2L319.6 148.8L319.8 148.1L319.8 147.6L319.2 147.4L318.8 147.0L318.5 146.5L318.2 146.0L318.0 145.7L317.4 145.8L317.0 145.7L316.5 145.9L316.0 146.1L315.5 145.9L315.1 145.5L314.8 145.2L314.8 145.5L314.8 146.2L314.2 146.4L313.8 146.6L313.2 146.4L312.8 146.2L312.0 146.1L311.3 146.2L310.8 146.5L310.8 147.0L310.4 146.8L310.2 146.2L309.8 145.8L309.2 145.6L308.7 145.8L308.2 146.0L307.5 146.0L307.2 146.0L306.5 146.2L305.8 146.1L305.2 145.8L304.8 145.7L304.4 146.0L304.0 146.5L303.7 146.8L303.2 147.2L302.8 147.4L302.1 147.2L301.8 147.0L301.4 146.5L301.2 146.0L300.7 145.8L300.2 145.8L299.7 146.0L299.3 146.5L299.0 146.4L298.5 146.6L297.9 146.8L297.5 146.8M322.4 156.2L322.6 155.8L322.7 155.0L322.2 154.6L321.8 154.5L321.2 154.5L321.2 155.2L321.4 155.8L321.6 156.2L322.2 156.4L322.4 156.2M323.6 159.5L323.7 158.8L323.5 158.2L323.0 158.0L322.8 158.4L322.7 159.0L323.0 159.3L323.5 159.6L323.6 159.5M317.8 136.5L318.2 136.6L319.0 136.6L319.7 136.8L320.0 136.7L320.4 136.2L320.8 135.9L321.2 135.7L321.6 135.2L322.0 134.8L322.2 134.4L322.8 134.2L323.5 134.1L324.0 133.8L324.8 133.8L325.2 133.6L325.9 133.5L326.5 133.3L327.0 133.2L327.8 133.1L328.2 133.4L328.8 133.6L329.2 133.3L329.5 132.9L329.8 132.5L330.3 132.5L331.0 132.6L331.8 132.5L332.0 132.2L332.2 131.6L332.8 131.4L333.5 131.4L334.0 131.0L334.2 130.6L334.6 130.2L335.2 130.0L335.5 129.7L336.0 129.2L336.5 129.0L337.0 128.8L337.8 128.9L338.5 128.9L339.0 129.2L339.4 129.5L340.0 129.7L340.8 129.5L341.0 129.2L341.5 128.8L341.8 128.5L341.4 128.2L341.0 127.9L340.5 128.0L340.0 128.4L340.0 128.0L340.5 127.6L340.9 127.2L341.2 126.8L341.8 126.5L342.2 126.4L342.8 126.1L343.2 125.8L343.8 125.5L344.2 125.3L344.4 126.0L344.0 126.5L343.8 126.9L343.5 127.5L343.4 128.0L343.0 128.3L342.4 128.5L342.5 129.0L342.5 129.8L342.8 130.2L343.1 130.8L343.1 131.5L343.3 132.0L343.2 132.7L343.0 133.0L342.5 133.4L342.2 133.8L341.8 134.2L341.2 134.5L340.5 134.3L340.0 134.1L339.4 134.2L339.5 135.0L339.7 135.5L340.2 135.8L340.8 136.0L341.1 136.2L341.3 136.8L341.1 137.2L340.8 137.7L340.2 137.8L339.8 138.1L339.5 138.8L339.4 139.2L339.2 139.8L338.9 140.2L338.7 140.8L338.6 141.5L338.5 142.2L338.3 142.8L338.0 143.2L337.8 143.5L337.1 143.8L336.5 144.0L336.3 144.5L336.5 145.2L336.2 145.8L336.2 146.5L336.4 147.0L336.2 147.6L335.8 147.8L335.0 147.9L334.5 148.1L334.0 148.3L333.6 148.8L333.4 149.2L333.2 149.9L333.1 150.5L333.0 151.0L332.5 151.5L332.4 152.0L332.6 152.5L332.3 153.0L332.0 153.0L331.5 152.6L331.2 153.0L331.5 153.4L331.5 154.0L331.0 154.0L330.5 154.0L330.0 153.7L329.2 153.7L329.0 154.2L328.8 154.7L328.3 155.0L327.8 155.2L327.5 155.5L327.0 155.9L326.5 156.1L325.8 156.1L325.4 156.5L325.5 157.0L326.0 157.4L326.5 157.5L327.2 157.6L328.0 157.6L328.3 158.0L328.0 158.3L327.5 158.7L327.1 159.0L326.8 159.3L326.3 159.8L325.8 159.9L325.3 159.5L325.0 159.1L324.8 158.6L324.5 158.2L324.2 157.8L323.8 157.2L323.5 157.0L323.1 156.5L323.2 155.8L323.2 155.0L323.1 154.2L323.1 153.5L322.8 153.0L322.5 153.0L322.2 153.6L322.0 153.8L321.7 153.2L321.9 152.8L321.9 152.0L321.7 151.5L321.7 150.8L321.8 150.1L321.9 149.5L321.9 148.8L321.9 148.0L322.2 147.5L322.4 147.0L322.4 146.2L322.1 145.8L321.5 145.6L320.8 145.8L320.3 146.0L319.9 146.0L319.5 145.6L319.2 145.2L319.2 144.7L319.5 144.2L319.8 143.6L320.2 143.4L320.8 143.2L321.1 142.8L320.8 142.2L320.5 141.8L320.5 141.0L320.2 140.7L320.2 141.2L320.4 141.8L320.1 142.2L319.9 142.8L319.6 143.2L319.2 143.5L318.6 143.5L318.6 142.8L318.6 142.0L318.4 141.5L317.8 141.3M329.8 136.2L330.1 135.8L329.5 135.6L328.8 135.6L328.8 136.0L329.3 136.2L329.8 136.2M336.7 141.0L337.1 140.8L337.0 140.1L336.6 139.8L336.1 139.8L335.7 140.0L335.2 140.2L334.5 140.5L334.2 140.8L334.5 141.2L335.2 141.0L336.0 141.0L336.7 141.0M317.8 158.7L318.2 158.5L318.8 158.0L319.2 157.8L319.8 157.6L320.5 157.5L320.8 157.2L321.2 157.0L322.0 157.0L322.5 157.2L322.2 157.9L322.0 158.3L321.5 158.6L321.1 159.0L320.8 159.5L320.5 159.8L320.0 160.1L319.4 160.0L318.8 159.8L318.0 159.9L317.8 159.9M341.0 134.8L340.5 134.6L340.1 134.2L339.8 133.8L339.6 133.2L339.3 132.8L339.0 132.4L338.5 132.2L337.8 132.2L337.2 131.8L337.2 131.2L337.3 130.8L337.4 130.0L337.6 129.5M334.3 131.5L334.2 132.0L334.0 132.5L333.8 133.2L333.8 134.0L333.8 134.8L333.7 135.2L333.4 135.8L333.0 136.2L332.7 136.5L333.0 136.9L333.5 137.1L334.0 137.4L334.5 137.5L335.2 137.7L336.0 137.8L336.3 137.8L337.0 137.5L337.4 137.2L337.9 137.0L338.5 136.8L339.2 136.8L339.8 136.7M323.5 134.8L323.6 135.2L323.8 135.8L323.9 136.5L324.0 137.0L324.2 137.8L324.5 138.2L324.8 138.5L325.5 138.5L325.9 138.2L326.2 137.8L326.2 137.0L326.2 136.2L326.2 135.7L326.4 135.0L326.2 134.3L326.2 134.2M314.8 139.2L315.1 139.8L315.5 140.1L316.0 140.3L316.6 140.2L317.0 140.0L316.9 139.5L316.5 139.0L316.4 139.0M333.5 144.8L333.9 144.2L333.8 143.7L333.5 143.1L333.3 142.5L333.5 141.9L333.8 141.4L333.9 140.8L333.8 140.0L333.2 139.8L332.6 140.0L332.2 140.2L331.8 140.6L331.3 141.0L330.8 141.2L330.2 141.4L329.9 141.8L329.6 142.2L329.8 143.0L330.0 143.4L330.2 143.8L330.7 144.2L331.1 144.5L331.8 144.6L332.3 144.8L333.0 144.9L333.5 144.8M312.1 143.8L312.2 143.1L312.2 142.8L312.0 142.0L311.8 141.6L311.4 141.2L311.0 141.0L310.5 140.7L310.2 140.5M307.1 141.0L307.2 141.8L307.5 142.1L307.9 142.5L308.1 143.0L308.1 143.5M304.4 143.8L304.2 143.0L303.8 142.8L303.0 143.0L302.7 143.2L302.3 143.8L302.2 144.0M322.8 151.5L323.5 151.5L324.0 151.4L324.5 151.2L325.1 151.0L325.5 150.7L325.8 150.2L326.1 149.8L326.3 149.2L326.8 148.8L327.0 148.5L327.4 148.0L327.2 147.3L327.0 147.0L326.6 146.5L326.2 146.1L325.9 145.8L325.5 145.5L325.0 145.2L324.5 144.8L324.2 144.4L323.9 144.0L323.5 144.0L323.1 144.5L322.8 144.8L322.0 145.0L321.6 145.2L321.4 145.5M327.3 155.0L328.0 154.9L328.5 154.6L328.6 154.0L328.3 153.5L328.0 153.2L327.5 153.0L326.8 152.8L326.2 153.0L325.9 153.5L326.0 154.1L326.2 154.6L326.8 155.0L327.2 155.0L327.3 155.0M322.2 157.8L322.8 157.6L323.2 157.2L323.2 156.9L323.0 156.4L322.5 156.1L321.8 156.1L321.2 156.3L320.9 156.8L321.0 157.3L321.5 157.7L322.0 157.8L322.2 157.8M328.2 137.0L327.8 136.9L327.5 136.2L327.8 135.7L328.2 135.3L328.8 135.5L328.9 136.2L328.7 136.8L328.2 137.0M321.8 135.6L322.5 135.6L322.9 136.0L323.1 136.5L323.2 137.2L323.2 138.0L323.0 138.8L322.9 139.2L323.0 140.0L323.2 140.5L323.5 140.8L323.9 141.2L324.5 141.3L324.9 141.0L325.2 140.7L325.7 140.2L326.0 140.0L326.5 139.5L326.9 139.2L327.5 139.1L328.2 139.2L328.8 139.5L329.2 139.8L329.5 140.1L329.5 140.6L329.2 141.1L329.0 141.5L328.8 142.2L328.8 142.7L329.0 143.2L329.2 143.7L329.5 144.1L329.8 144.6L330.0 145.1L330.4 145.5L331.0 145.6L331.8 145.5L332.5 145.7L333.0 145.9L333.5 146.1L333.8 146.5L333.9 147.2L333.7 147.8L333.5 148.2L333.0 148.7L332.5 148.9L332.0 149.1L331.2 149.2L330.8 149.3L330.4 149.8L330.5 150.5L330.6 151.0L330.5 151.6L330.2 152.0L329.8 152.5L329.2 152.6L328.5 152.5L328.0 152.3L327.5 152.1L327.0 152.0L326.5 151.6L326.5 151.2L326.9 150.8L327.2 150.3L327.6 150.0L328.2 149.8L328.8 149.6L329.5 149.5L330.0 149.4L330.4 149.0L330.4 148.2L330.2 147.6L330.0 147.0L329.8 146.6L329.2 146.5L328.5 146.4L327.8 146.3L327.2 146.0L326.9 145.8L326.5 145.3L326.1 145.0L325.8 144.6L325.5 144.2L325.2 143.7L325.0 143.0L324.8 142.5L324.5 142.1L324.0 141.8L323.5 142.0L323.0 142.3L322.5 142.6L322.0 143.0L321.7 143.2L321.3 143.8L321.0 144.1L320.7 144.5L320.5 144.9M313.7 139.5L314.0 139.8L314.3 140.2L314.6 140.8L315.0 141.2L315.3 141.5L316.0 141.6L316.5 141.3L317.0 141.1L317.5 141.0L318.2 141.0L318.8 141.0L319.2 141.0L319.8 140.8L320.2 140.4L320.4 139.8L320.2 139.2L319.8 138.8L319.2 138.5L318.5 138.7L318.0 138.8L317.5 138.7M335.8 143.8L335.5 143.4L335.0 143.0L334.8 142.7L334.6 142.0L334.8 141.3L334.9 140.8L334.9 140.0L334.9 139.2L335.2 138.9L336.0 138.8L336.8 139.0L337.2 139.2L337.5 139.7L337.5 140.0L337.5 140.8L337.5 141.0M313.3 143.5L313.2 142.9L313.2 142.2L313.0 141.6L312.8 141.1L312.5 140.8L312.1 140.2L311.9 140.0M325.2 156.3L324.5 156.5L324.0 156.2L323.5 155.8L323.2 155.5L322.8 155.1L322.2 154.8L322.1 154.2L322.5 153.9L323.0 153.7L323.5 153.3L323.9 153.0L324.2 152.7L324.8 152.8L325.0 153.4L325.2 154.0L325.4 154.5L325.6 155.0L325.6 155.8L325.3 156.2L325.2 156.3"/><path fill="none" stroke="#111" stroke-width="0.95" stroke-linejoin="round" d="M297.5 142.3L298.6 141.0L299.7 142.0L300.8 140.5L301.9 140.5L303.0 141.1L304.1 141.5L305.2 140.0L306.3 139.9L307.4 140.9L308.5 141.1L309.6 140.8L310.7 140.5L311.8 140.6L312.9 139.6L314.0 140.2L315.1 139.6L316.2 140.2L317.3 139.9L318.4 139.4L319.5 138.7L320.6 138.2M297.5 143.4L298.6 143.5L299.7 143.5L300.8 144.1L301.9 143.6L303.0 143.8L304.1 143.7L305.2 143.6L306.3 142.9L307.4 142.4L308.5 142.6L309.6 143.1L310.7 142.4L311.8 142.6L312.9 142.0L314.0 141.6L315.1 142.2L316.2 142.4L317.3 142.3L318.4 141.3L319.5 141.7L320.6 142.2L321.7 142.3L322.8 142.1L323.9 141.1"/><path fill="none" stroke="#000" stroke-width="1.4" stroke-linejoin="round" d="M297.5 145.9L298.6 145.1L299.7 145.0L300.8 145.9L301.9 145.0L303.0 145.1L304.1 145.8L305.2 145.5L306.3 145.1L307.4 145.5L308.5 145.7L309.6 145.4L310.7 144.7L311.8 145.1L312.9 144.6L314.0 145.2L315.1 144.9L316.2 144.5L317.3 144.6L318.4 144.3L319.5 145.3"/><path fill="none" stroke="#000" stroke-width="1.7" stroke-linejoin="round" d="M297.5 159.4L298.6 159.8L299.7 159.4L300.8 159.6L301.9 159.6L303.0 159.7L304.1 159.2L305.2 159.0L306.3 159.5L307.4 159.2L308.5 159.0L309.6 158.6L310.7 159.4L311.8 159.3L312.9 159.0L314.0 159.1L315.1 159.1L316.2 159.0L317.3 159.2"/><path fill="none" stroke="#111" stroke-width="0.9" stroke-linejoin="round" d="M297.5 161.2L298.6 161.1L299.7 161.0L300.8 160.7L301.9 161.4L303.0 160.8L304.1 161.1L305.2 160.9L306.3 161.3L307.4 161.0L308.5 161.3L309.6 161.3L310.7 160.7L311.8 161.1L312.9 160.7L314.0 161.3L315.1 160.9"/>
<ellipse cx="330.4" cy="166.4" rx="1.8" ry="1.1" fill="none" stroke="#111" stroke-width="1"/>
<ellipse cx="334.6" cy="169.3" rx="1.2" ry="1.2" fill="none" stroke="#111" stroke-width="1"/>
<circle cx="336.9" cy="166.6" r="0.9" fill="#111"/><circle cx="323" cy="167" r="0.6" fill="#333"/><circle cx="352.8" cy="175.6" r="0.9" fill="#111"/><circle cx="351.4" cy="180" r="0.8" fill="#222"/>
<rect x="297.5" y="117.5" width="113.0" height="112.0" fill="none" stroke="#2a2a2a" stroke-width="0.95"/>
<path d="M354.5 117.5V229.5M297.5 176.5H410.5" stroke="#1a1a1a" stroke-width="0.95" fill="none"/>
<path d="M297.8 117V230" stroke="#000" stroke-width="1.6"/>
<path stroke="#000" stroke-width="1" fill="none" d="M293.2 229.5H297.5M297.5 229.5V232.7M293.2 201.5H297.5M325.8 229.5V232.7M293.2 173.5H297.5M354.0 229.5V232.7M293.2 145.5H297.5M382.2 229.5V232.7M293.2 117.5H297.5M410.5 229.5V232.7"/>
<path stroke="#000" stroke-width="0.9" fill="none" d="M295.7 221.1H298.1M306.0 228.9V231.3M295.7 216.1H298.1M311.0 228.9V231.3M295.7 212.6H298.1M314.5 228.9V231.3M295.7 209.9H298.1M317.2 228.9V231.3M295.7 207.7H298.1M319.5 228.9V231.3M295.7 205.8H298.1M321.4 228.9V231.3M295.7 204.2H298.1M323.0 228.9V231.3M295.7 202.8H298.1M324.5 228.9V231.3M295.7 193.1H298.1M334.3 228.9V231.3M295.7 188.1H298.1M339.2 228.9V231.3M295.7 184.6H298.1M342.8 228.9V231.3M295.7 181.9H298.1M345.5 228.9V231.3M295.7 179.7H298.1M347.7 228.9V231.3M295.7 177.8H298.1M349.6 228.9V231.3M295.7 176.2H298.1M351.3 228.9V231.3M295.7 174.8H298.1M352.7 228.9V231.3M295.7 165.1H298.1M362.5 228.9V231.3M295.7 160.1H298.1M367.5 228.9V231.3M295.7 156.6H298.1M371.0 228.9V231.3M295.7 153.9H298.1M373.7 228.9V231.3M295.7 151.7H298.1M376.0 228.9V231.3M295.7 149.8H298.1M377.9 228.9V231.3M295.7 148.2H298.1M379.5 228.9V231.3M295.7 146.8H298.1M381.0 228.9V231.3M295.7 137.1H298.1M390.8 228.9V231.3M295.7 132.1H298.1M395.7 228.9V231.3M295.7 128.6H298.1M399.3 228.9V231.3M295.7 125.9H298.1M402.0 228.9V231.3M295.7 123.7H298.1M404.2 228.9V231.3M295.7 121.8H298.1M406.1 228.9V231.3M295.7 120.2H298.1M407.8 228.9V231.3M295.7 118.8H298.1M409.2 228.9V231.3"/>
<path stroke="#999" stroke-width="0.8" d="M292.4 115.3V126"/>
</g>
<g class="s" font-size="9.4">
<text x="275.3" y="121.1" textLength="11" lengthAdjust="spacing">10</text>
<text x="274.8" y="231.2" textLength="11.2" lengthAdjust="spacing">10</text>
<text x="289.9" y="243.0" textLength="10.8" lengthAdjust="spacing">10</text>
<text x="403.7" y="243.1" textLength="11" lengthAdjust="spacing">10</text>
</g>
<g font-size="4.6" fill="#222">
<text x="287.0" y="117.6">4</text>
<text x="286.2" y="228.4">0</text>
<text x="300.6" y="239.5">0</text>
<text x="415.4" y="239.2">4</text>
</g>
<g class="s" font-size="9.8">
<text x="265.6" y="171" font-size="10.2" textLength="17.4" lengthAdjust="spacingAndGlyphs">CD4</text>
<text x="265.6" y="181" textLength="16.8" lengthAdjust="spacingAndGlyphs">(PE)</text>
</g>
<g class="s" font-size="10.5">
<text x="333.5" y="250.8">CD45RA</text>
<text x="339.8" y="263" font-size="10.2" textLength="28.4" lengthAdjust="spacingAndGlyphs">(FITC)</text>
</g>
<text x="423.2" y="129.2" style="font-size:12.5px;font-weight:700;stroke:#000;stroke-width:0.5">A</text>
<g fill="#fff" stroke="#333" stroke-width="0.95">
<rect x="300.5" y="119.5" width="9" height="8"/>
<rect x="400.5" y="119.5" width="8" height="8"/>
<rect x="300.5" y="178.5" width="8" height="8"/>
<rect x="400.5" y="179.5" width="8" height="8"/>
</g>
<g font-size="6.6" text-anchor="middle" fill="#222" style="stroke:#222;stroke-width:0.2">
<text x="305" y="126">90</text>
<text x="404.6" y="125.6">2</text>
<text x="304.6" y="184.3">7</text>
<text x="404.6" y="185.4">1</text>
</g>
<path fill="none" stroke="#000" stroke-width="3.1" stroke-linecap="round" d="M71.8 234.85L180.15 239.25M180.3 239.65L288.0 35.65M288 36.55L399.6 30.28M399.6 28.7L505.4 53.2M71.8 246.2L180.05 215.3M180.05 213.25L288.25 68.1M288.25 66.9L399.6 27.6M395.4 31.45L503.7 175"/>
<g fill="#000"><circle cx="71.8" cy="233.8" r="5.4"/><circle cx="180.15" cy="239.65" r="5.4"/><circle cx="288.25" cy="68.1" r="5.4"/><circle cx="505.4" cy="175" r="5.4"/></g>
<g fill="#ebebeb" stroke="#000" stroke-width="2.6"><rect x="66.60" y="244.55" width="10.4" height="10.2"/><rect x="174.85" y="208.15" width="10.4" height="10.2"/><rect x="281.85" y="30.55" width="10.4" height="10.2"/><rect x="394.95" y="26.40" width="10.4" height="10.2"/><rect x="500.20" y="49.30" width="10.4" height="10.2"/></g>
</svg>
</body></html>
